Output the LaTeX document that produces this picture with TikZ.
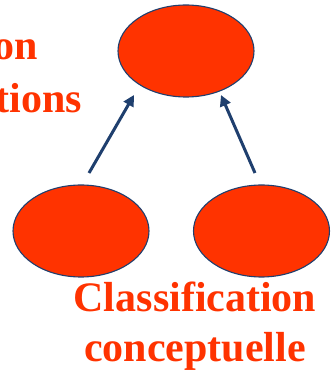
\documentclass[tikz,border=0pt]{standalone}
\usepackage{fontspec}
\setmainfont{Liberation Serif}
\usetikzlibrary{shapes.geometric,arrows.meta}
\definecolor{orng}{HTML}{FF3300}
\definecolor{navy}{HTML}{1F3F6E}
\tikzset{
  blob/.style={ellipse, draw=navy, line width=1.1pt, fill=orng, minimum width=136pt, minimum height=92pt, inner sep=0pt},
  link/.style={draw=navy, line width=3pt, -{Triangle[length=11pt,width=11pt]}},
  lbl/.style={text=orng, font=\bfseries\fontsize{42}{50}\selectfont, inner sep=0pt}
}
\begin{document}
\begin{tikzpicture}[x=1pt,y=1pt]
\useasboundingbox (0,0) rectangle (336,375);
\node[blob] (top) at (186,324) {};
\node[blob] (left) at (81,144) {};
\node[blob] (right) at (261.5,144) {};
\coordinate (ls) at (89,202);
\coordinate (lt) at (134,280);
\coordinate (rs) at (255,202);
\coordinate (rt) at (221,280);
\draw[link] (ls) -- (lt);
\draw[link] (rs) -- (rt);
\node[lbl, anchor=base east] (t1) at (38,315) {on};
\node[lbl, anchor=base east] (t2) at (82,262) {tions};
\node[lbl, anchor=base] (c1) at (195,63) {Classification};
\node[lbl, anchor=base] (c2) at (195,13) {conceptuelle};
\end{tikzpicture}
\end{document}
